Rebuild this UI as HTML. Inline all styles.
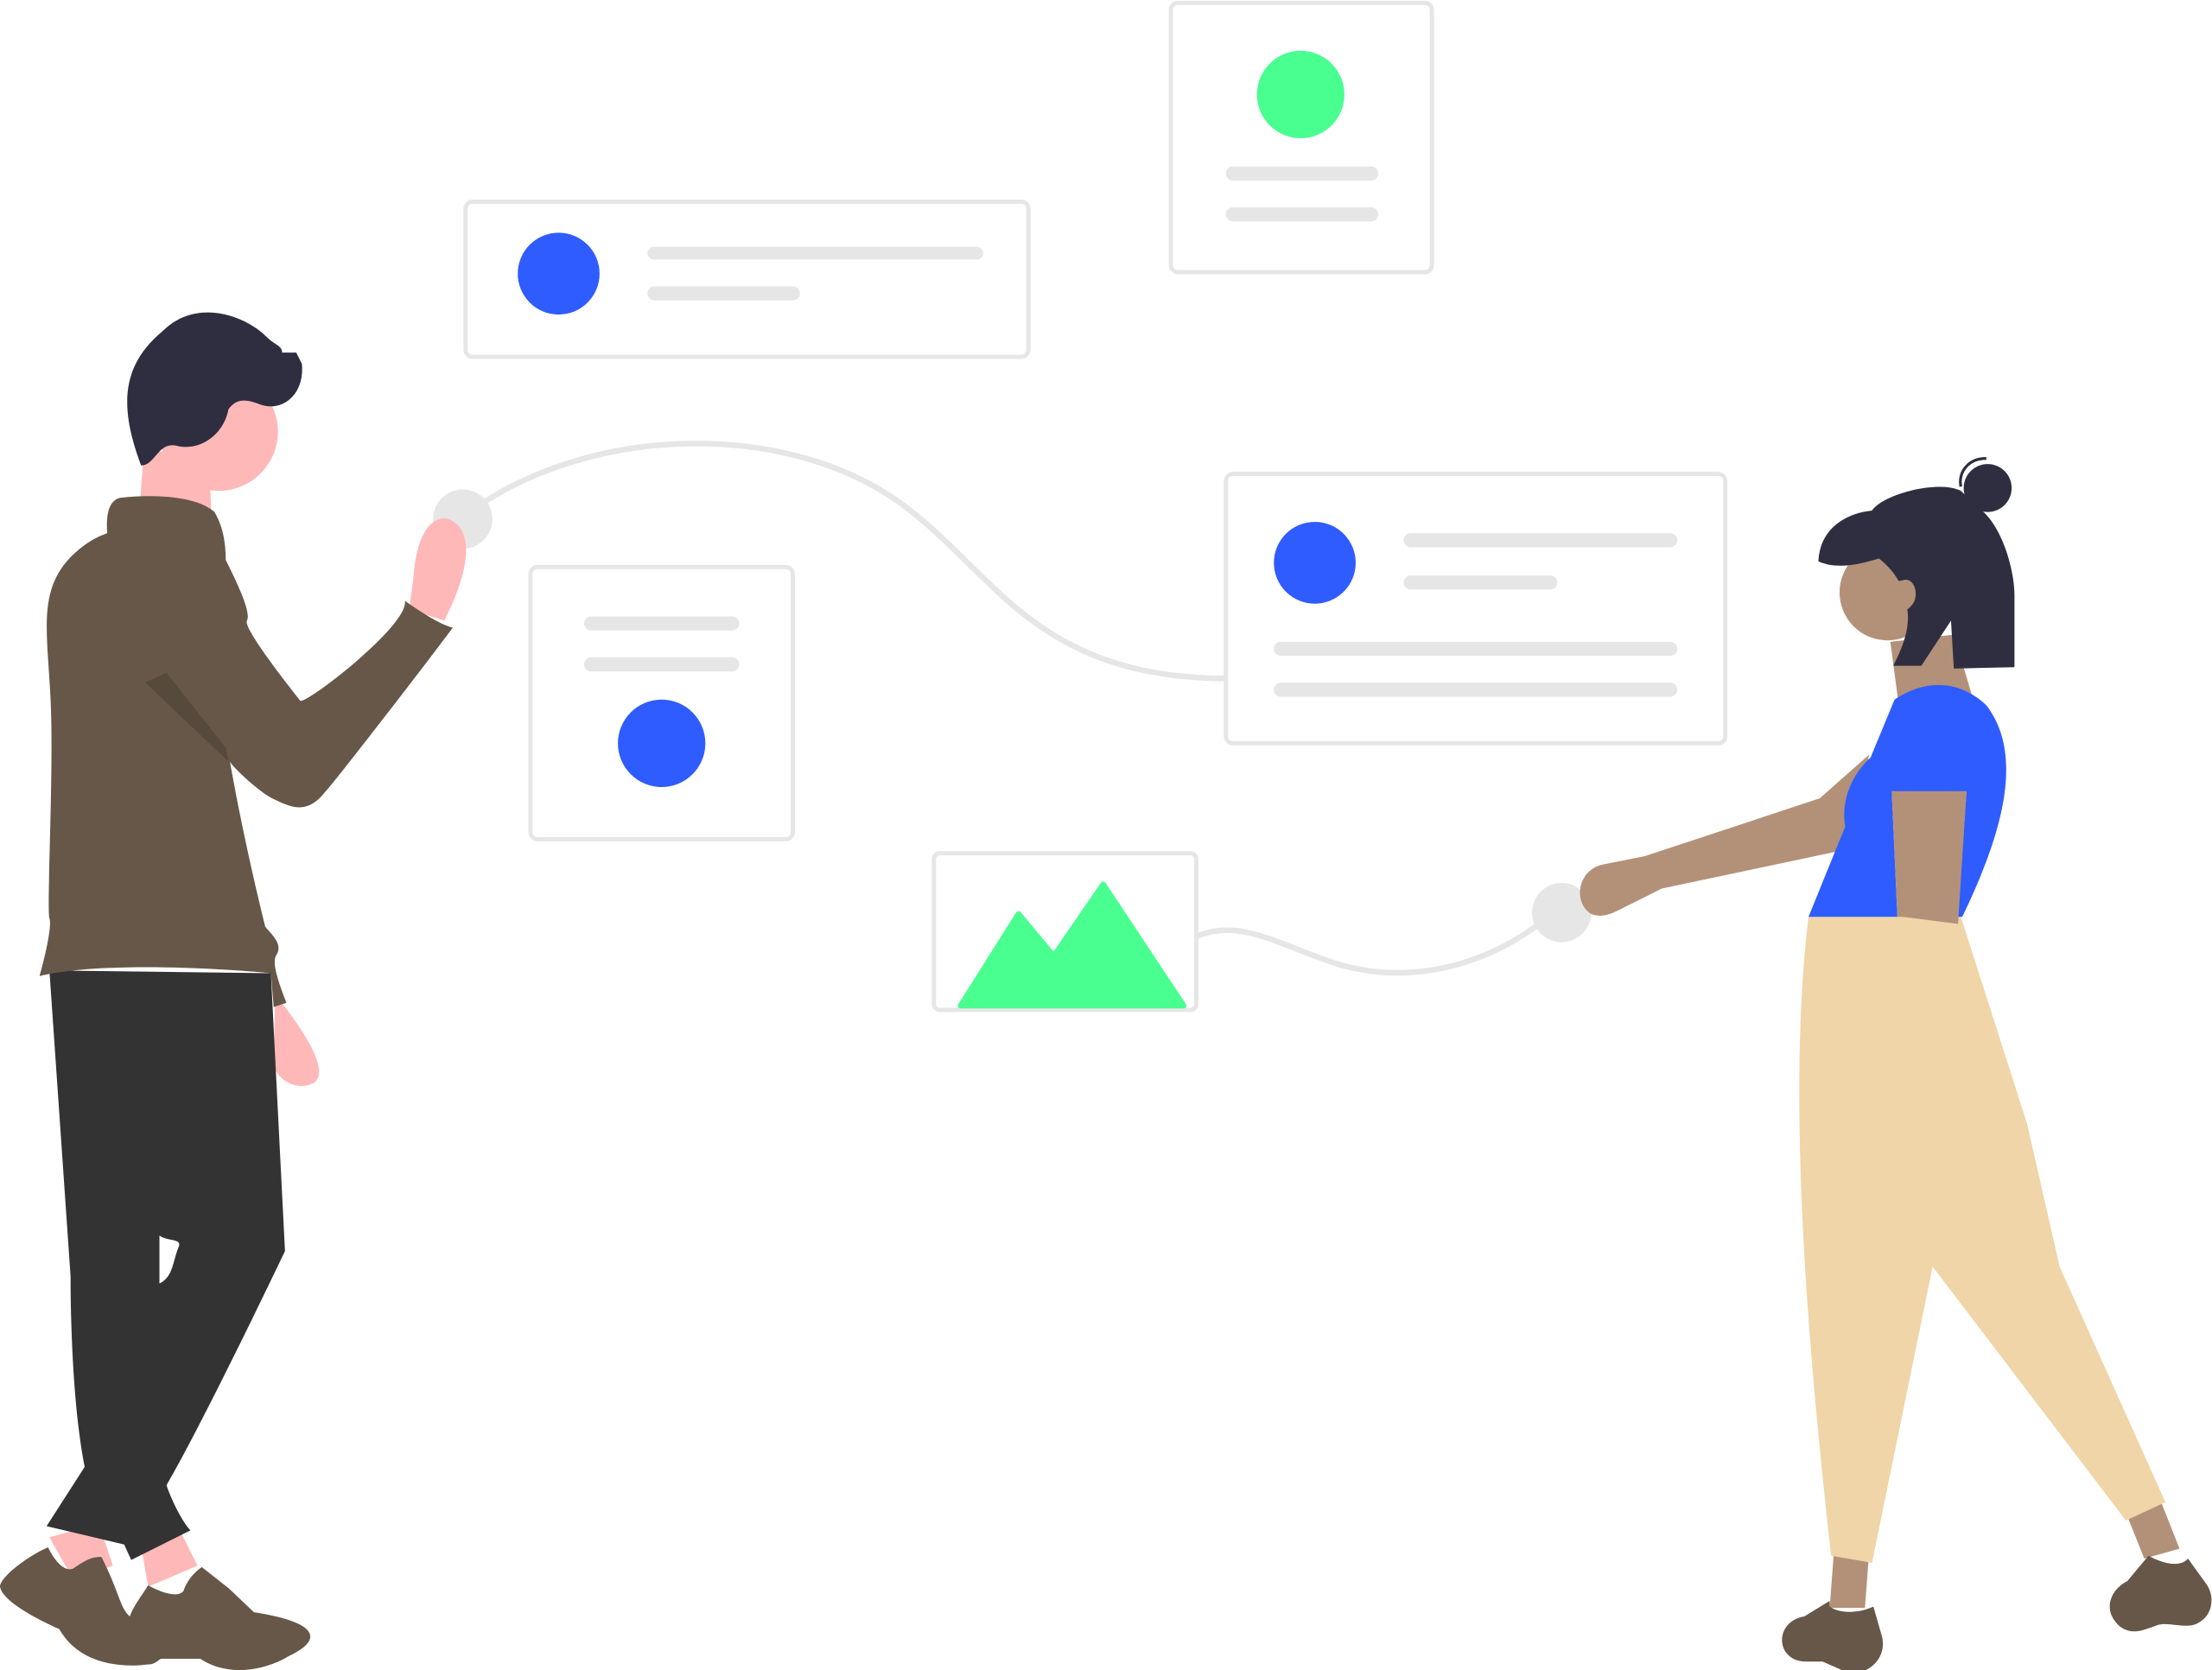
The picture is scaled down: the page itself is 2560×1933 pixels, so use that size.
<!DOCTYPE html>
<html><head><meta charset="utf-8"><style>
html,body{margin:0;padding:0;background:#fff;}
svg{display:block;}
</style></head><body>
<svg width="2560" height="1933" viewBox="0 0 1568 1184" xmlns="http://www.w3.org/2000/svg">
<g fill="none" stroke="#e6e6e6" stroke-width="3">
<!-- connectors -->
<path d="M340 358 C420 305 540 300 620 345 C700 390 720 480 868 481" stroke-width="4"/>
<path d="M848 664 C880 650 910 672 950 684 C1000 698 1050 685 1090 656" stroke-width="4"/>
<!-- cards -->
<rect x="330" y="143" width="399" height="110" rx="5"/>
<rect x="830" y="2" width="185" height="191" rx="5"/>
<rect x="869" y="336" width="354" height="191" rx="5"/>
<rect x="376" y="402" width="186" height="193" rx="5"/>
<rect x="662" y="605" width="186" height="111" rx="4"/>
</g>
<g fill="#e6e6e6">
<rect x="459" y="175" width="238" height="9" rx="4.5"/>
<rect x="459" y="203" width="108" height="10" rx="5"/>
<rect x="869" y="118" width="108" height="10" rx="5"/>
<rect x="869" y="147" width="108" height="10" rx="5"/>
<rect x="995" y="378" width="194" height="10" rx="5"/>
<rect x="995" y="408" width="109" height="10" rx="5"/>
<rect x="903" y="455" width="286" height="10" rx="5"/>
<rect x="903" y="484" width="286" height="10" rx="5"/>
<rect x="414" y="437" width="110" height="10" rx="5"/>
<rect x="414" y="466" width="110" height="10" rx="5"/>
<circle cx="328" cy="368" r="21"/>
<circle cx="1107" cy="647" r="21"/>
</g>
<circle cx="396" cy="194" r="29" fill="#2f5cff"/>
<circle cx="922" cy="67" r="31" fill="#48ff90"/>
<circle cx="932" cy="399" r="29" fill="#2f5cff"/>
<circle cx="469" cy="527" r="31" fill="#2f5cff"/>
<polygon points="681,713 722,648 747,678 782,627 839,713" fill="#48ff90" stroke="#48ff90" stroke-linejoin="round" stroke-width="4"/>

<!-- LEFT MAN -->
<g>
<!-- skin -->
<circle cx="155" cy="306" r="42" fill="#ffb8b8"/>
<polygon points="102,320 148,320 150,370 98,372" fill="#ffb8b8"/>
<path d="M293 410 C295 380 305 365 318 368 C335 375 335 400 315 440 L290 432Z" fill="#ffb8b8"/>
<path d="M195 705 C215 730 235 760 222 768 C210 774 196 765 194 755Z" fill="#ffb8b8"/>
<polygon points="35,1090 70,1080 80,1110 52,1120" fill="#ffb8b8"/>
<polygon points="98,1085 125,1080 140,1110 105,1125" fill="#ffb8b8"/>
<!-- hair -->
<path d="M100 330 C85 290 85 260 115 235 C140 210 175 225 188 238 C195 245 200 245 200 250 L210 250 L214 258 C216 280 200 292 185 287 C175 283 168 282 162 290 C158 310 140 320 125 316 C112 313 110 330 100 330Z" fill="#2f2e41"/>
<!-- pants -->
<path d="M35 688 L192 690 L202 887 C180 933 140 1015 118 1053 C122 1065 130 1080 135 1085 L93 1106 L88 1095 L33 1082 L60 1040 C52 1000 50 940 50 905Z" fill="#333"/>
<path d="M113 876 C118 880 128 878 127 883 C122 895 123 905 113 910Z" fill="#fff"/>
<!-- shoes -->
<path d="M34 1097 C20 1103 0 1118 0 1125 C2 1138 42 1155 42 1155 C55 1178 82 1183 105 1180 C110 1180 112 1177 114 1176 L142 1176 C160 1188 185 1186 205 1174 C230 1162 225 1150 180 1143 L162 1126 L143 1111 C136 1116 132 1122 130 1128 C124 1135 105 1124 105 1124 C100 1132 95 1138 92 1146 C85 1140 85 1130 72 1104 C65 1103 58 1108 52 1112 C45 1115 38 1105 34 1097Z" fill="#665748"/>
<!-- shirt -->
<path d="M76 378 C75 365 77 355 85 353 C110 350 140 352 152 363 C158 373 160 385 160 397 C170 417 178 435 175 440 C172 445 205 487 213 497 C220 497 290 443 287 426 C297 433 312 443 321 445 C300 473 240 551 230 562 C218 577 207 573 195 567 C185 563 165 544 163 540 C170 580 180 625 188 657 C195 665 200 670 196 677 C192 682 198 698 203 711 L194 714 L192 690 C150 686 70 682 28 692 C32 678 37 656 35 651 C33 645 38 548 36 500 C34 450 26 420 50 395 C60 385 68 381 76 378Z" fill="#665748"/>
<polygon points="103,484 118,477 160,530 162,540" fill="#000" opacity="0.15"/>
</g>

<!-- RIGHT WOMAN -->
<g>
<!-- skin -->
<circle cx="1338" cy="420" r="34" fill="#b39179"/>
<polygon points="1340,455 1385,450 1400,500 1346,500" fill="#b39179"/>
<path d="M1325 535 L1290 566 L1166 607 L1136 613 C1118 617 1115 640 1128 648 C1135 651 1142 648 1148 645 L1178 630 L1310 602Z" fill="#b39179"/>
<path d="M1341 560 L1394 560 L1388 655 L1345 780 L1340 826 C1338 834 1332 840 1322 838 C1310 835 1302 825 1306 811 L1316 786 L1349 650Z" fill="#b39179"/>
<polygon points="1300,1100 1325,1100 1322,1140 1297,1140" fill="#b39179"/>
<polygon points="1508,1075 1532,1065 1545,1098 1520,1105" fill="#b39179"/>
<!-- pants -->
<path d="M1282 650 L1390 650 L1437 797 L1460 898 L1535 1065 L1507 1078 L1370 898 L1327 1108 L1298 1103 C1285 985 1265 790 1282 650Z" fill="#efd5a7"/>
<!-- shoes -->
<path d="M1297 1135 L1279 1146 C1266 1148 1260 1160 1265 1170 C1268 1175 1273 1178 1280 1178 L1292 1178 L1310 1186 C1325 1188 1338 1175 1334 1160 L1328 1139 C1320 1143 1305 1145 1297 1139Z" fill="#665748"/>
<path d="M1523 1103 L1508 1121 C1496 1127 1492 1140 1499 1149 C1503 1155 1510 1158 1518 1156 C1522 1155 1527 1153 1530 1152 C1536 1150 1548 1154 1555 1152 C1568 1148 1571 1133 1564 1123 L1551 1105 C1545 1112 1532 1108 1523 1103Z" fill="#665748"/>
<!-- shirt -->
<path d="M1343 496 C1362 483 1387 480 1408 500 C1435 535 1420 590 1391 650 L1388 650 L1394 561 L1341 561 L1345 650 L1282 650 L1308 586 C1305 568 1312 550 1326 537Z" fill="#2f5cff"/>
<path d="M1388 655 L1394 561 L1341 561 L1345 650 L1349 650 Z" fill="#b39179"/>
<!-- hair -->
<circle cx="1409" cy="346" r="17" fill="#2f2e41"/>
<path d="M1390 345 C1388 335 1395 325 1408 325" stroke="#2f2e41" stroke-width="2" fill="none"/>
<path d="M1289 398 C1290 375 1308 364 1327 362 C1335 350 1375 340 1390 348 L1405 362 C1420 375 1428 405 1428 422 L1428 473 L1385 474 L1383 440 L1362 472 L1342 472 C1350 457 1354 443 1352 432 C1360 428 1358 408 1346 412 C1342 405 1337 400 1332 396 C1318 400 1302 404 1289 398Z" fill="#2f2e41"/>
<ellipse cx="1351" cy="421" rx="7" ry="10" fill="#b39179"/>
</g>
</svg>
</body></html>
